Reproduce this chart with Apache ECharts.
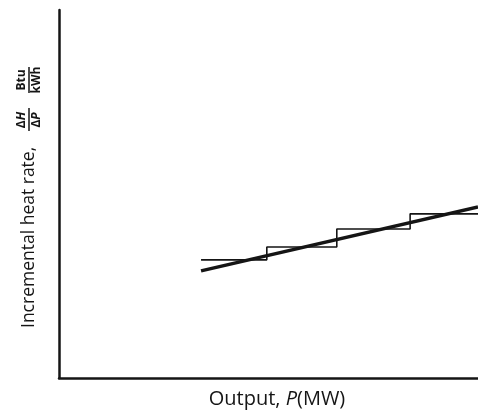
<!DOCTYPE html>
<html>
<head>
<meta charset="utf-8">
<script src="https://cdn.jsdelivr.net/npm/echarts@6/dist/echarts.min.js"></script>
<style>
  html, body { margin: 0; padding: 0; background: #ffffff; }
  #chart { width: 478px; height: 412px; }
</style>
</head>
<body>
<div id="chart"></div>
<script>
// Linear approximation of the incremental heat rate (output %, rate %)
const lineOutput = [33.9, 100];
const lineRate = [29.1, 46.5];

// Staircase incremental heat rate, one level per valve point
const stepOutput = [33.9, 49.6, 66.3, 83.8, 100];
const stepRate = [32.1, 35.6, 40.5, 44.6, 44.6];

const INK = '#151515';
const FONT = '"Open Sans", "Noto Sans", sans-serif';

const chart = echarts.init(document.getElementById('chart'), null, { renderer: 'canvas' });

const plainAxis = {
  type: 'value',
  min: 0,
  max: 100,
  axisLine: { show: true, lineStyle: { color: INK, width: 2.5 } },
  axisTick: { show: false },
  axisLabel: { show: false },
  splitLine: { show: false }
};

const fracText = (x, y, rich) => ({
  type: 'text',
  x: x,
  y: y,
  style: Object.assign({ align: 'center', verticalAlign: 'middle' }, rich)
});

const fracRich = {
  d: { fontFamily: FONT, fontSize: 12, fontWeight: 'bold', fill: INK },
  v: { fontFamily: FONT, fontSize: 12, fontWeight: 'bold', fontStyle: 'italic', fill: INK }
};

chart.setOption({
  backgroundColor: '#ffffff',
  animation: false,
  grid: { left: 59, right: 0, top: 10, bottom: 34 },
  xAxis: Object.assign({}, plainAxis),
  yAxis: Object.assign({}, plainAxis),
  series: [
    {
      type: 'line',
      data: stepOutput.map((x, i) => [x, stepRate[i]]),
      step: 'end',
      symbol: 'none',
      lineStyle: { color: INK, width: 1.6 },
      z: 2
    },
    {
      type: 'line',
      data: lineOutput.map((x, i) => [x, lineRate[i]]),
      symbol: 'none',
      lineStyle: { color: INK, width: 3.5 },
      z: 3
    }
  ],
  graphic: [
    {
      type: 'text',
      x: 277,
      y: 399,
      style: {
        text: '{n|Output, }{i|P}{n|(MW)}',
        align: 'center',
        verticalAlign: 'middle',
        rich: {
          n: { fontFamily: FONT, fontSize: 20, fill: INK },
          i: { fontFamily: FONT, fontSize: 20, fontStyle: 'italic', fill: INK }
        }
      }
    },
    {
      type: 'group',
      x: 29,
      y: 328,
      rotation: Math.PI / 2,
      children: [
        {
          type: 'text',
          x: 0,
          y: 0,
          style: {
            text: 'Incremental heat rate,',
            fontFamily: FONT,
            fontSize: 17.5,
            fill: INK,
            verticalAlign: 'middle',
            align: 'left'
          }
        },
        fracText(208, -7, { text: '{d|Δ}{v|H}', rich: fracRich }),
        {
          type: 'line',
          shape: { x1: 197, y1: 0, x2: 220, y2: 0 },
          style: { stroke: INK, lineWidth: 1.5 }
        },
        fracText(208, 8, { text: '{d|Δ}{v|P}', rich: fracRich }),
        fracText(248, -7, { text: '{d|Btu}', rich: fracRich }),
        {
          type: 'line',
          shape: { x1: 235, y1: 0, x2: 261, y2: 0 },
          style: { stroke: INK, lineWidth: 1.5 }
        },
        fracText(248, 8, { text: '{d|kWh}', rich: fracRich })
      ]
    }
  ]
});
</script>
</body>
</html>
